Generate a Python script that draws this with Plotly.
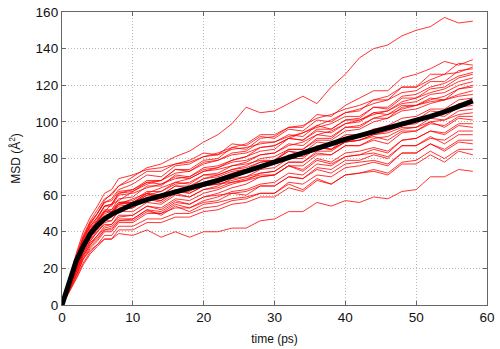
import plotly.graph_objects as go

# time axis (ps)
time_ps = [0, 1, 2, 3, 4, 5, 6, 7, 8, 10, 12, 14, 16, 18, 20, 22, 24, 26, 28, 30,
           32, 34, 36, 38, 40, 42, 44, 46, 48, 50, 52, 54, 56, 58]

# individual MSD trajectories (Å^2)
msd_runs = [
    [0, 12, 24, 36, 44, 50, 57, 61, 65, 70, 75, 77, 81, 84, 89, 93, 99, 108, 105, 106, 110, 114, 110, 119, 126, 135, 140, 142, 147, 150, 152, 157, 154, 155],
    [0, 11, 22, 32, 39, 45, 51, 55, 57, 62, 67, 68, 74, 74, 79, 80, 86, 85, 91, 92, 97, 97, 104, 103, 109, 113, 117, 117, 124, 126, 129, 133, 131, 134],
    [0, 13, 25, 37, 45, 50, 56, 58, 63, 66, 71, 70, 76, 77, 81, 83, 86, 88, 93, 93, 97, 98, 102, 104, 107, 109, 112, 114, 119, 119, 126, 126, 132, 131],
    [0, 10, 20, 30, 37, 42, 48, 50, 55, 58, 61, 64, 67, 69, 73, 75, 79, 81, 86, 87, 91, 94, 98, 101, 105, 106, 112, 112, 119, 119, 123, 126, 127, 130],
    [0, 14, 27, 38, 46, 52, 58, 60, 65, 68, 73, 73, 77, 79, 83, 82, 88, 87, 92, 91, 96, 95, 101, 100, 105, 107, 110, 112, 116, 117, 122, 122, 128, 129],
    [0, 12, 23, 33, 41, 46, 52, 52, 58, 59, 65, 65, 71, 70, 75, 76, 79, 81, 84, 85, 91, 90, 96, 96, 101, 102, 108, 108, 114, 115, 119, 121, 125, 127],
    [0, 13, 26, 36, 43, 48, 54, 55, 61, 62, 66, 68, 72, 73, 77, 79, 83, 84, 89, 89, 92, 94, 97, 99, 103, 103, 108, 107, 113, 113, 118, 119, 124, 126],
    [0, 10, 21, 31, 38, 44, 49, 50, 55, 56, 60, 62, 66, 67, 71, 72, 76, 78, 82, 83, 87, 89, 93, 95, 99, 100, 105, 106, 111, 113, 116, 118, 122, 124],
    [0, 12, 24, 34, 42, 47, 54, 55, 61, 63, 68, 68, 74, 73, 78, 79, 82, 83, 86, 87, 91, 90, 95, 94, 99, 101, 104, 106, 110, 111, 115, 116, 120, 122],
    [0, 9, 19, 28, 35, 40, 45, 46, 52, 53, 58, 57, 63, 62, 67, 69, 72, 74, 78, 79, 85, 85, 91, 91, 97, 97, 102, 102, 108, 109, 112, 114, 118, 120],
    [0, 13, 25, 35, 43, 48, 54, 54, 60, 61, 64, 66, 69, 70, 74, 75, 78, 79, 82, 83, 88, 87, 93, 92, 97, 98, 102, 104, 107, 109, 113, 112, 118, 119],
    [0, 11, 22, 32, 39, 44, 48, 50, 54, 55, 60, 60, 65, 65, 69, 71, 74, 76, 80, 81, 85, 85, 90, 90, 95, 96, 100, 102, 106, 107, 110, 112, 115, 117],
    [0, 14, 28, 40, 48, 54, 61, 63, 69, 71, 74, 75, 77, 78, 81, 82, 85, 86, 88, 89, 93, 92, 98, 96, 101, 101, 105, 104, 109, 109, 111, 112, 114, 115],
    [0, 10, 20, 30, 36, 41, 46, 46, 51, 51, 56, 55, 60, 59, 63, 65, 69, 70, 74, 75, 80, 80, 86, 85, 91, 92, 96, 98, 102, 103, 107, 107, 112, 113],
    [0, 12, 24, 34, 41, 46, 51, 52, 56, 57, 62, 62, 67, 66, 71, 71, 74, 75, 78, 79, 84, 83, 89, 88, 93, 93, 96, 97, 100, 101, 106, 105, 110, 111],
    [0, 9, 18, 27, 33, 38, 43, 44, 48, 49, 54, 53, 58, 57, 61, 63, 66, 68, 72, 73, 78, 78, 84, 84, 89, 90, 93, 95, 98, 99, 104, 103, 108, 109],
    [0, 11, 23, 33, 40, 45, 50, 51, 55, 56, 61, 60, 65, 64, 69, 70, 73, 74, 76, 77, 82, 81, 86, 85, 89, 90, 93, 94, 97, 97, 102, 101, 106, 107],
    [0, 8, 17, 26, 32, 36, 41, 41, 46, 47, 52, 51, 56, 55, 59, 61, 64, 66, 70, 71, 76, 76, 82, 82, 87, 87, 91, 92, 96, 97, 100, 101, 104, 105],
    [0, 11, 22, 32, 38, 43, 48, 49, 53, 54, 59, 57, 62, 61, 65, 66, 68, 70, 72, 73, 78, 78, 83, 82, 87, 87, 90, 88, 94, 95, 99, 98, 103, 103],
    [0, 13, 26, 37, 45, 50, 56, 57, 62, 63, 67, 66, 70, 69, 73, 74, 76, 77, 79, 79, 84, 82, 87, 85, 89, 90, 92, 90, 95, 95, 100, 97, 102, 101],
    [0, 9, 18, 27, 33, 37, 41, 42, 46, 46, 51, 50, 55, 53, 57, 59, 62, 63, 66, 67, 72, 71, 77, 76, 81, 82, 85, 83, 90, 91, 95, 94, 99, 99],
    [0, 10, 21, 31, 37, 42, 47, 48, 52, 53, 58, 56, 61, 59, 63, 64, 67, 68, 70, 71, 76, 74, 80, 78, 83, 84, 86, 84, 90, 91, 95, 93, 98, 97],
    [0, 8, 16, 25, 31, 35, 40, 40, 45, 45, 50, 50, 53, 53, 56, 57, 61, 60, 65, 65, 70, 69, 75, 74, 79, 79, 82, 80, 87, 87, 91, 90, 95, 95],
    [0, 12, 24, 34, 41, 46, 51, 51, 56, 56, 61, 58, 63, 61, 65, 66, 67, 69, 71, 71, 76, 73, 79, 77, 81, 82, 83, 81, 87, 87, 92, 88, 93, 93],
    [0, 7, 15, 23, 29, 33, 38, 38, 43, 43, 47, 47, 50, 50, 53, 54, 57, 58, 61, 61, 67, 66, 71, 70, 75, 76, 78, 76, 83, 83, 88, 85, 90, 90],
    [0, 10, 20, 29, 35, 40, 44, 44, 49, 49, 54, 52, 57, 55, 59, 60, 61, 62, 65, 65, 70, 69, 74, 72, 77, 78, 79, 77, 83, 83, 88, 84, 89, 88],
    [0, 7, 14, 22, 28, 32, 36, 36, 41, 41, 45, 45, 48, 48, 51, 52, 55, 56, 59, 59, 64, 62, 68, 66, 71, 72, 74, 72, 78, 79, 84, 80, 85, 85],
    [0, 9, 19, 28, 34, 38, 42, 43, 47, 47, 52, 49, 54, 51, 55, 56, 58, 59, 61, 61, 66, 63, 69, 66, 71, 72, 73, 71, 77, 77, 82, 78, 84, 82],
    [0, 8, 16, 25, 30, 33, 36, 36, 39, 38, 41, 37, 40, 37, 40, 40, 42, 42, 46, 47, 51, 51, 56, 54, 57, 56, 59, 58, 62, 63, 70, 70, 74, 73],
]

# average MSD (Å^2)
msd_mean = [0, 13, 24, 32, 39, 43.5, 47, 49.5, 51.5, 55, 57.5, 59.5, 61.5, 63.5, 65.5, 68, 70.5, 73, 76, 78.5,
            81, 83, 85.5, 88, 90.5, 92.5, 94.5, 96.5, 99, 101, 103, 105.5, 108.5, 111.5]

x_ticks = [0, 10, 20, 30, 40, 50, 60]
y_ticks = [0, 20, 40, 60, 80, 100, 120, 140, 160]

FONT = "Liberation Sans, Arial, sans-serif"

fig = go.Figure()
for run in msd_runs:
    fig.add_trace(go.Scatter(x=time_ps, y=run, mode="lines",
                             line=dict(color="rgb(255,0,0)", width=0.8),
                             showlegend=False, hoverinfo="skip"))
fig.add_trace(go.Scatter(x=time_ps, y=msd_mean, mode="lines",
                         line=dict(color="black", width=5),
                         showlegend=False))

axis_common = dict(
    showline=True, linecolor="#666", linewidth=1.3, mirror="ticks",
    ticks="inside", ticklen=4, tickcolor="#666", tickwidth=1.3,
    showgrid=True, gridcolor="#b8b8b8", griddash="1px,2px", gridwidth=1,
    zeroline=False, ticklabeloverflow="allow",
    tickfont=dict(family=FONT, size=13.5, color="#111"),
)

fig.update_layout(
    width=500, height=349,
    margin=dict(l=62, r=8, t=5, b=40),
    paper_bgcolor="white", plot_bgcolor="white",
    xaxis=dict(range=[0, 60], tickvals=x_ticks, ticktext=[str(v) for v in x_ticks],
               title=dict(text="time (ps)", standoff=10,
                          font=dict(family=FONT, size=12, color="#111")),
               **axis_common),
    yaxis=dict(range=[0, 160], tickvals=y_ticks, ticktext=[str(v) for v in y_ticks],
               title=dict(text="MSD (Å<sup>2</sup>)", standoff=12,
                          font=dict(family=FONT, size=12, color="#111")),
               **axis_common),
)

fig.write_html("out.html")
